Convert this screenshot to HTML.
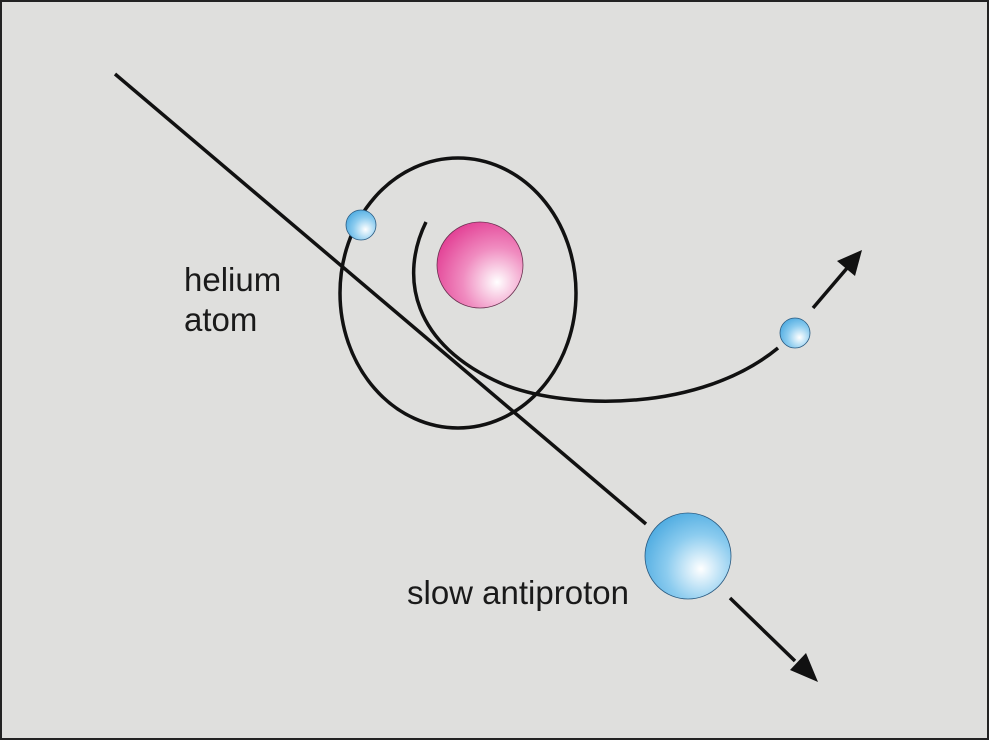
<!DOCTYPE html>
<html><head><meta charset="utf-8"><style>
html,body{margin:0;padding:0;background:#dfdfdd}
svg{display:block}
</style></head><body>
<svg width="989" height="740" viewBox="0 0 989 740" xmlns="http://www.w3.org/2000/svg">
<defs>
<radialGradient id="pk" cx="0.7" cy="0.7" r="0.8">
<stop offset="0" stop-color="#ffffff"/><stop offset="0.5" stop-color="#f08cc0"/><stop offset="1" stop-color="#e23d93"/>
</radialGradient>
<radialGradient id="bl" cx="0.65" cy="0.65" r="0.8">
<stop offset="0" stop-color="#ffffff"/><stop offset="0.5" stop-color="#8cccef"/><stop offset="1" stop-color="#3fa3dd"/>
</radialGradient>
</defs>
<rect x="1" y="1" width="987" height="738" fill="#dfdfdd" stroke="#222" stroke-width="2"/>
<g fill="none" stroke="#111" stroke-width="3.5">
<line x1="115" y1="74" x2="646" y2="524"/>
<ellipse cx="458" cy="293" rx="118" ry="135"/>
<path d="M426,222 C400,275 410,345 505,385 C570,410 700,412 778,348"/>
<line x1="730" y1="598" x2="795" y2="661"/>
<line x1="813" y1="308" x2="848" y2="267"/>
</g>
<polygon points="818,682 790,670 806,653" fill="#111"/>
<polygon points="862,250 855,276 837,261" fill="#111"/>
<circle cx="480" cy="265" r="43" fill="url(#pk)" stroke="#6a3050" stroke-width="0.8"/>
<circle cx="361" cy="225" r="15" fill="url(#bl)" stroke="#2a5a80" stroke-width="0.8"/>
<circle cx="795" cy="333" r="15" fill="url(#bl)" stroke="#2a5a80" stroke-width="0.8"/>
<circle cx="688" cy="556" r="43" fill="url(#bl)" stroke="#2a5a80" stroke-width="0.8"/>
<g font-family="Liberation Sans, sans-serif" font-size="33" fill="#1a1a1a">
<text x="184" y="291">helium</text>
<text x="184" y="331">atom</text>
<text x="407" y="604">slow antiproton</text>
</g>
</svg>
</body></html>
